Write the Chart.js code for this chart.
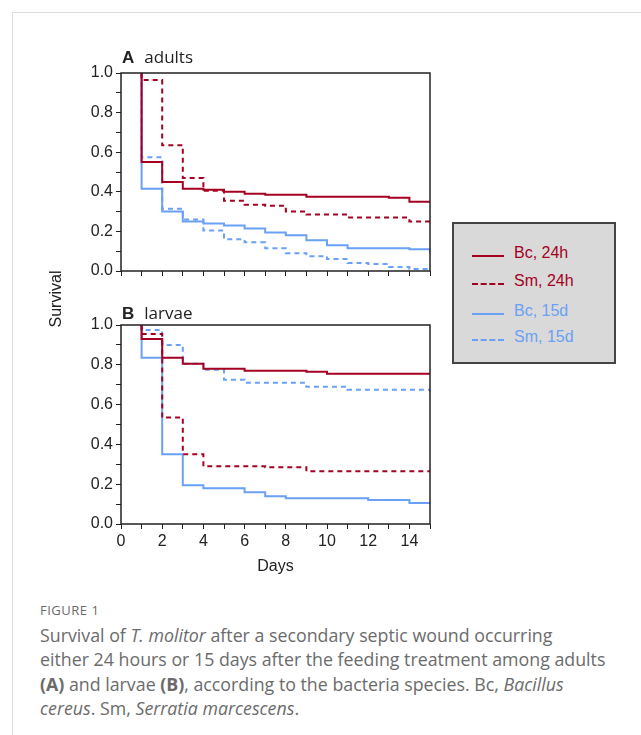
<!DOCTYPE html>
<html><head><meta charset="utf-8">
<script src="https://cdn.jsdelivr.net/npm/chart.js@4/dist/chart.umd.min.js"></script>
<style>
body{margin:0;background:#fff;font-family:"Open Sans",Arial,sans-serif;}
#card{position:absolute;left:12px;top:12px;width:640px;height:740px;border-left:1px solid #ddd;border-top:1px solid #ddd;}
.abs{position:absolute;}
#legend{left:452px;top:222px;width:160px;height:138px;background:#d9d9d9;border:2px solid #444;font-family:"Liberation Sans",Arial;font-size:16px;}
.li{position:absolute;left:18px;height:20px;width:140px;white-space:nowrap;}
.li span{position:absolute;left:42px;top:-2px;}
.li i{position:absolute;left:0;top:9px;width:32px;border-top:2px solid;}
.ttl{font-family:"Open Sans";font-size:17px;color:#222;}
.ttl b{font-family:"Liberation Sans";font-size:17px;margin-right:10px;}
#cap{left:40px;top:598px;width:600px;color:#6b6b6b;font-size:17.8px;line-height:24.5px;white-space:nowrap;}
</style></head><body>
<div id="card"></div>
<canvas id="ca" class="abs" style="left:40px;top:40px"></canvas>
<canvas id="cb" class="abs" style="left:40px;top:290px"></canvas>
<div class="abs ttl" style="left:122px;top:45px"><b>A</b>adults</div>
<div class="abs ttl" style="left:122px;top:301px"><b>B</b>larvae</div>
<div class="abs" style="left:28px;top:290px;transform:rotate(-90deg);font-family:'Liberation Sans';font-size:16px;color:#222">Survival</div>
<div id="legend" class="abs">
 <div class="li" style="top:22px"><i style="border-color:#a50021"></i><span style="color:#a50021">Bc, 24h</span></div>
 <div class="li" style="top:50px"><i style="border-color:#a50021;border-top-style:dashed"></i><span style="color:#a50021">Sm, 24h</span></div>
 <div class="li" style="top:80px"><i style="border-color:#6aa0f5"></i><span style="color:#6aa0f5">Bc, 15d</span></div>
 <div class="li" style="top:106px"><i style="border-color:#6aa0f5;border-top-style:dashed"></i><span style="color:#6aa0f5">Sm, 15d</span></div>
</div>
<div id="cap" class="abs">
<div style="font-size:13px;letter-spacing:0.5px;margin-bottom:0px">FIGURE 1</div>
Survival of <i>T. molitor</i> after a secondary septic wound occurring<br>either 24 hours or 15 days after the feeding treatment among adults<br><b>(A)</b> and larvae <b>(B)</b>, according to the bacteria species. Bc, <i>Bacillus</i><br><i>cereus</i>. Sm, <i>Serratia marcescens</i>.
</div>
<script>
const days = [1,2,3,4,5,6,7,8,9,10,11,12,13,14,15];
const adultBc24 = [.55,.45,.415,.41,.40,.39,.385,.385,.375,.375,.375,.375,.37,.35,.345];
const adultSm24 = [.965,.635,.47,.405,.355,.335,.33,.30,.285,.285,.27,.27,.27,.25,.245];
const adultBc15 = [.415,.30,.25,.24,.23,.215,.195,.18,.155,.13,.115,.115,.115,.11,.09];
const adultSm15 = [.575,.315,.26,.205,.16,.145,.115,.09,.075,.06,.04,.035,.02,.01,.01];
const larvaBc24 = [.93,.835,.805,.78,.78,.77,.77,.77,.765,.755,.755,.755,.755,.755,.75];
const larvaSm24 = [.955,.535,.35,.29,.29,.29,.285,.285,.265,.265,.265,.265,.265,.265,.265];
const larvaBc15 = [.835,.35,.195,.18,.18,.16,.14,.13,.13,.13,.13,.12,.12,.105,.105];
const larvaSm15 = [.975,.90,.805,.775,.725,.71,.71,.71,.69,.69,.675,.675,.675,.675,.645];

const RED='#a50021', BLUE='#6aa0f5';
const pts = vals => [{x:1,y:1}].concat(vals.map((v,i)=>({x:days[i],y:v})));
// Chart.js 'before' = horizontal first, then vertical drop
const ds = (vals,color,dash) => ({data:pts(vals),borderColor:color,borderWidth:2,borderDash:dash?[5,4]:[],stepped:'before',pointRadius:0,fill:false});

const boxPlugin={id:'box',afterDraw(c){const a=c.chartArea,x=c.ctx;x.save();x.strokeStyle='#222';x.lineWidth=1.5;x.strokeRect(a.left,a.top,a.right-a.left,a.bottom-a.top);x.restore();}};

function make(id,w,h,sets,pad,xLabels,yW,xH){
  const cv=document.getElementById(id);cv.width=w;cv.height=h;cv.style.width=w+'px';cv.style.height=h+'px';
  new Chart(cv,{type:'line',data:{datasets:sets},plugins:[boxPlugin],
   options:{responsive:false,animation:false,layout:{padding:pad},
    plugins:{legend:{display:false},tooltip:{enabled:false}},
    scales:{
     x:{type:'linear',min:0,max:15,afterFit:s=>{s.height=xH},border:{display:false},
        grid:{drawOnChartArea:false,tickLength:5,color:'#222'},
        title:{display:xLabels,text:'Days',color:'#222',font:{family:'Liberation Sans',size:16},padding:{top:-2}},
        ticks:{stepSize:1,autoSkip:false,maxRotation:0,color:'#222',font:{family:'Liberation Sans',size:16},
          callback:v=>xLabels&&v%2===0&&v<15?v:''}},
     y:{min:0,max:1,afterFit:s=>{s.width=yW},border:{display:false},
        grid:{drawOnChartArea:false,tickLength:5,color:'#222'},
        ticks:{stepSize:0.1,autoSkip:false,color:'#222',font:{family:'Liberation Sans',size:16},
          callback:v=>Math.round(v*10)%2===0?v.toFixed(1):''}}
    }}});
}
make('ca',410,250,[ds(adultBc24,RED),ds(adultSm24,RED,1),ds(adultBc15,BLUE),ds(adultSm15,BLUE,1)],{top:33,right:20,left:0,bottom:0},false,81,19);
make('cb',410,290,[ds(larvaBc24,RED),ds(larvaSm24,RED,1),ds(larvaBc15,BLUE),ds(larvaSm15,BLUE,1)],{top:35,right:20,left:0,bottom:0},true,81,56);
</script>
</body></html>
